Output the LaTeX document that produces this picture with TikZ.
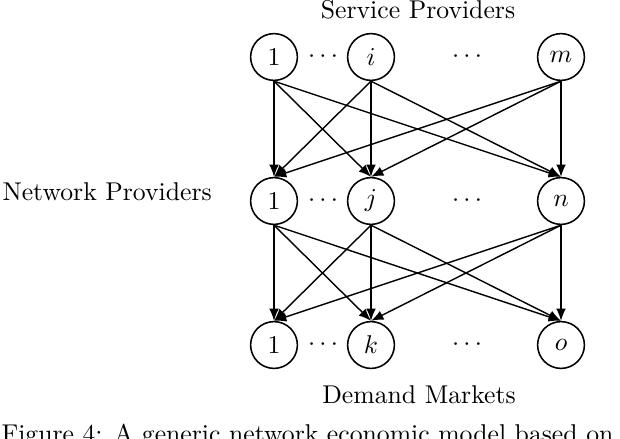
\documentclass[tikz,border=0pt]{standalone}
\usetikzlibrary{arrows.meta}
\begin{document}
\begin{tikzpicture}[x=0.389pt,y=-0.389pt,
  vert/.style={circle,draw,line width=0.6pt,minimum size=18.2pt,inner sep=0pt,font=\normalsize},
  link/.style={line width=0.55pt,-{Latex[length=4.8pt,width=3.8pt]}},
  lbl/.style={inner sep=0pt,anchor=base}]
\useasboundingbox (0,0) rectangle (620,438);
% labels
\node[lbl] (sp) at (418,18) {Service Providers};
\node[lbl,anchor=base west] (np) at (2,200) {Network Providers};
\node[lbl] (dm) at (419,403) {Demand Markets};
\begin{scope}
\clip (0,0) rectangle (620,438);
\node[lbl,anchor=base west] (cap) at (1,442) {Figure 4: A generic network economic model based on};
\end{scope}
% nodes
\foreach \r/\y/\a/\b/\c in {s/57/1/i/m, n/201/1/j/n, d/345/1/k/o}{
  \node[vert] (\r1) at (274,\y) {$\a$};
  \node[vert] (\r2) at (371,\y) {$\b$};
  \node[vert] (\r3) at (561,\y) {$\c$};
  \node (\r d1) at (323,\y) {$\cdots$};
  \node (\r d2) at (467,\y) {$\cdots$};
}
% edges
\foreach \p in {1,2,3}{
  \foreach \q in {1,2,3}{
    \draw[link] (s\p.south) -- (n\q.north);
    \draw[link] (n\p.south) -- (d\q.north);
  }
}
\end{tikzpicture}
\end{document}
